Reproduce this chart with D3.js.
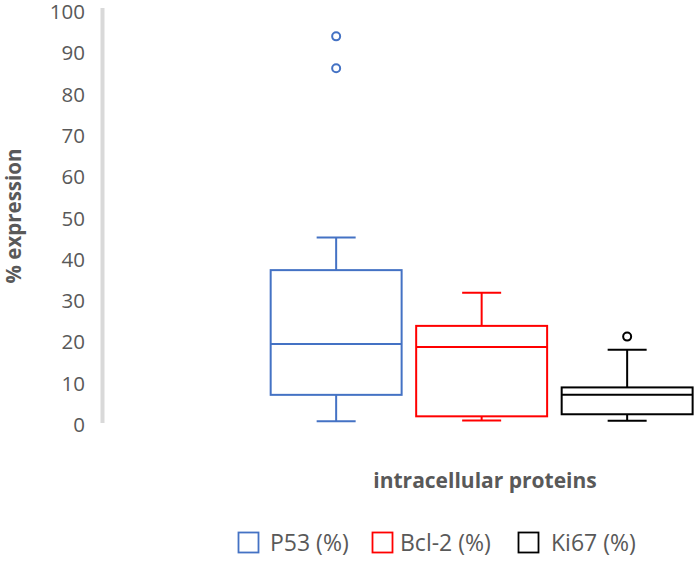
<!DOCTYPE html>
<html><head><meta charset="utf-8">
<script src="https://cdn.jsdelivr.net/npm/d3@7"></script>
<style>body{margin:0;background:#fff;}svg{display:block;font-family:"Open Sans","Noto Sans",sans-serif;}</style>
</head><body>
<svg id="c" width="696" height="563"></svg>
<script>
const categories = ["P53 (%)", "Bcl-2 (%)", "Ki67 (%)"];
const colors = ["#4472c4", "#ff0000", "#000000"];
const whiskerLow = [0.9, 1.1, 1.0];
const q1 = [7.3, 2.1, 2.6];
const median = [19.6, 18.9, 7.3];
const q3 = [37.5, 24.0, 9.1];
const whiskerHigh = [45.4, 32.0, 18.2];
const outliers = [[94.1, 86.4], [], [21.4]];
const yTicks = [0, 10, 20, 30, 40, 50, 60, 70, 80, 90, 100];

const svg = d3.select("#c");
const y = d3.scaleLinear().domain([0, 100]).range([425, 12]);
const x = d3.scaleBand().domain(categories).range([263.4, 699.9]).paddingInner(0.1).paddingOuter(0.05);

// y axis line
svg.append("line").attr("x1", 102.5).attr("x2", 102.5).attr("y1", 8).attr("y2", 423)
  .attr("stroke", "#d9d9d9").attr("stroke-width", 4);

// tick labels
const yAxis = d3.axisLeft(y).tickValues(yTicks).tickSize(0).tickPadding(0);
const ga = svg.append("g").attr("transform", "translate(85,0)").call(yAxis);
ga.select(".domain").remove();
ga.selectAll("text").attr("fill", "#595959").style("font-size", "20.5px")
  .style("font-family", "'Open Sans','Noto Sans',sans-serif");

// axis titles
svg.append("text").attr("transform", "translate(21,216) rotate(-90)")
  .attr("text-anchor", "middle").attr("fill", "#595959")
  .style("font-size", "20.5px").style("font-weight", "bold").text("% expression");
svg.append("text").attr("x", 485).attr("y", 488).attr("text-anchor", "middle")
  .attr("fill", "#595959").style("font-size", "21px").style("font-weight", "bold")
  .text("intracellular proteins");

// boxes
categories.forEach((c, i) => {
  const g = svg.append("g");
  const x0 = x(c), w = x.bandwidth(), cx = x0 + w / 2, capW = 39;
  const col = colors[i];
  g.append("line").attr("x1", cx).attr("x2", cx).attr("y1", y(whiskerHigh[i])).attr("y2", y(q3[i]))
    .attr("stroke", col).attr("stroke-width", 2);
  g.append("line").attr("x1", cx).attr("x2", cx).attr("y1", y(q1[i])).attr("y2", y(whiskerLow[i]))
    .attr("stroke", col).attr("stroke-width", 2);
  g.append("line").attr("x1", cx - capW / 2).attr("x2", cx + capW / 2).attr("y1", y(whiskerHigh[i])).attr("y2", y(whiskerHigh[i]))
    .attr("stroke", col).attr("stroke-width", 2);
  g.append("line").attr("x1", cx - capW / 2).attr("x2", cx + capW / 2).attr("y1", y(whiskerLow[i])).attr("y2", y(whiskerLow[i]))
    .attr("stroke", col).attr("stroke-width", 2);
  g.append("rect").attr("x", x0).attr("y", y(q3[i])).attr("width", w).attr("height", y(q1[i]) - y(q3[i]))
    .attr("fill", "#fff").attr("stroke", col).attr("stroke-width", 2);
  g.append("line").attr("x1", x0).attr("x2", x0 + w).attr("y1", y(median[i])).attr("y2", y(median[i]))
    .attr("stroke", col).attr("stroke-width", 2);
  g.selectAll("circle").data(outliers[i]).enter().append("circle")
    .attr("cx", cx).attr("cy", d => y(d)).attr("r", 4)
    .attr("fill", "#fff").attr("stroke", col).attr("stroke-width", 2);
});

// legend
const legX = [238, 372, 518];
const legTextX = [270, 400, 551];
const legend = svg.append("g");
categories.forEach((c, i) => {
  legend.append("rect").attr("x", legX[i] + 0.5).attr("y", 532.5).attr("width", 20).attr("height", 20)
    .attr("fill", "#fff").attr("stroke", colors[i]).attr("stroke-width", 1.8);
  legend.append("text").attr("x", legTextX[i]).attr("y", 551).attr("fill", "#595959")
    .style("font-size", "23px").text(c);
});
</script>
</body></html>
